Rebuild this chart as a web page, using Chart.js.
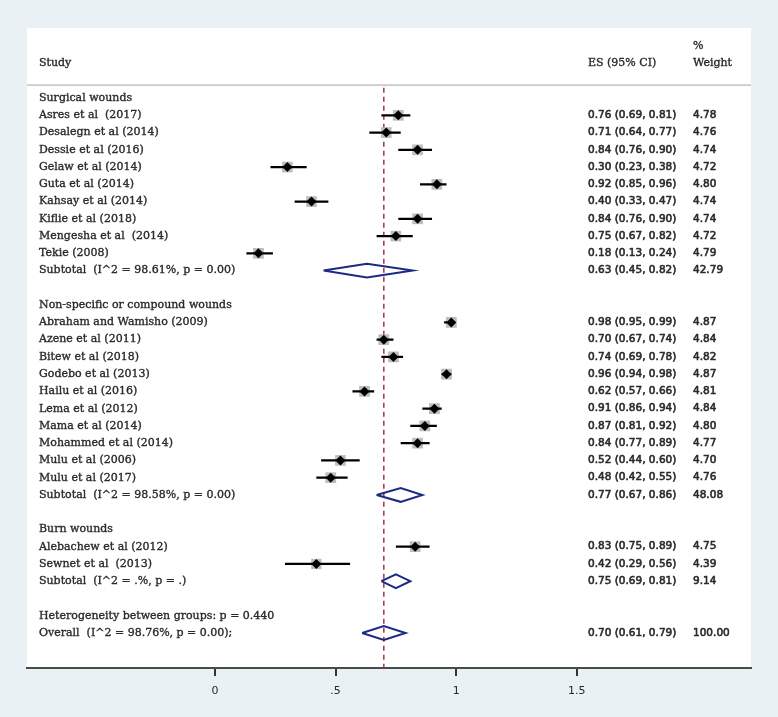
<!DOCTYPE html>
<html>
<head>
<meta charset="utf-8">
<script src="https://cdn.jsdelivr.net/npm/chart.js@4.4.0/dist/chart.umd.min.js"></script>
<style>
  html, body { margin: 0; padding: 0; background: #e9f1f4; }
  #wrap { width: 778px; height: 717px; }
</style>
</head>
<body>
<div id="wrap"><canvas id="forest"></canvas></div>
<script>
// groups and studies
const groupNames = ['Surgical wounds', 'Non-specific or compound wounds', 'Burn wounds'];
const studyLabels = [
  'Asres et al  (2017)', 'Desalegn et al (2014)', 'Dessie et al (2016)', 'Gelaw et al (2014)',
  'Guta et al (2014)', 'Kahsay et al (2014)', 'Kiflie et al (2018)', 'Mengesha et al  (2014)', 'Tekie (2008)',
  'Abraham and Wamisho (2009)', 'Azene et al (2011)', 'Bitew et al (2018)', 'Godebo et al (2013)',
  'Hailu et al (2016)', 'Lema et al (2012)', 'Mama et al (2014)', 'Mohammed et al (2014)',
  'Mulu et al (2006)', 'Mulu et al (2017)',
  'Alebachew et al (2012)', 'Sewnet et al  (2013)'
];
const studyGroup = [0,0,0,0,0,0,0,0,0, 1,1,1,1,1,1,1,1,1,1, 2,2];
const studyES    = [0.76,0.71,0.84,0.30,0.92,0.40,0.84,0.75,0.18, 0.98,0.70,0.74,0.96,0.62,0.91,0.87,0.84,0.52,0.48, 0.83,0.42];
const studyLower = [0.69,0.64,0.76,0.23,0.85,0.33,0.76,0.67,0.13, 0.95,0.67,0.69,0.94,0.57,0.86,0.81,0.77,0.44,0.42, 0.75,0.29];
const studyUpper = [0.81,0.77,0.90,0.38,0.96,0.47,0.90,0.82,0.24, 0.99,0.74,0.78,0.98,0.66,0.94,0.92,0.89,0.60,0.55, 0.89,0.56];
const studyWeight = [4.78,4.76,4.74,4.72,4.80,4.74,4.74,4.72,4.79, 4.87,4.84,4.82,4.87,4.81,4.84,4.80,4.77,4.70,4.76, 4.75,4.39];

// subtotals and overall
const subtotalLabels = ['Subtotal  (I^2 = 98.61%, p = 0.00)', 'Subtotal  (I^2 = 98.58%, p = 0.00)', 'Subtotal  (I^2 = .%, p = .)'];
const subtotalES    = [0.63, 0.77, 0.75];
const subtotalLower = [0.45, 0.67, 0.69];
const subtotalUpper = [0.82, 0.86, 0.81];
const subtotalWeight = [42.79, 48.08, 9.14];
const heterogeneityLabel = 'Heterogeneity between groups: p = 0.440';
const overallLabel = 'Overall  (I^2 = 98.76%, p = 0.00);';
const overallES = 0.70, overallLower = 0.61, overallUpper = 0.79, overallWeight = 100.00;

// axis
const xTicks = [0, 0.5, 1, 1.5];
const xTickLabels = ['0', '.5', '1', '1.5'];

// ---- layout in row units (y axis is row number, reversed) ----
const rows = [];
let r = 0;
groupNames.forEach((g, gi) => {
  rows.push({ kind: 'group', text: g, y: r++ });
  studyGroup.forEach((sg, si) => { if (sg === gi) rows.push({ kind: 'study', i: si, y: r++ }); });
  rows.push({ kind: 'subtotal', i: gi, y: r++ });
  r++;
});
rows.push({ kind: 'het', y: r++ });
rows.push({ kind: 'overall', y: r++ });

const fmt = (e, l, u) => e.toFixed(2) + ' (' + l.toFixed(2) + ', ' + u.toFixed(2) + ')';
const DIAMOND_H = 0.4;

const ciData = [], boxData = [], boxRadius = [], pointData = [], diamondData = [];
rows.forEach(row => {
  if (row.kind === 'study') {
    const i = row.i;
    ciData.push({ x: studyLower[i], y: row.y }, { x: studyUpper[i], y: row.y }, { x: null, y: null });
    boxData.push({ x: studyES[i], y: row.y });
    boxRadius.push(7.6 * Math.sqrt(studyWeight[i] / 4.8));
    pointData.push({ x: studyES[i], y: row.y });
  }
  if (row.kind === 'subtotal' || row.kind === 'overall') {
    const e = row.kind === 'overall' ? overallES : subtotalES[row.i];
    const l = row.kind === 'overall' ? overallLower : subtotalLower[row.i];
    const u = row.kind === 'overall' ? overallUpper : subtotalUpper[row.i];
    diamondData.push({ x: l, y: row.y }, { x: e, y: row.y - DIAMOND_H }, { x: u, y: row.y },
                     { x: e, y: row.y + DIAMOND_H }, { x: l, y: row.y }, { x: null, y: null });
  }
});

const serif = '11px "DejaVu Serif"';
const sans = '10.5px "DejaVu Sans"';

// heavier text like the scanned original
function heavyText(ctx, s, x, y, w) {
  ctx.lineWidth = w;
  ctx.strokeText(s, x, y);
  ctx.fillText(s, x, y);
}

const panel = {
  id: 'panel',
  beforeDraw(chart) {
    const { ctx, chartArea: { left, top, width, height } } = chart;
    ctx.save();
    ctx.fillStyle = '#e9f1f4';
    ctx.fillRect(0, 0, chart.width, chart.height);
    ctx.fillStyle = '#ffffff';
    ctx.fillRect(left, top, width, height);
    // header separator
    const ys = chart.scales.y.getPixelForValue(-0.75);
    ctx.fillStyle = '#cfcfcf';
    ctx.fillRect(left, ys - 1, width, 2);
    ctx.restore();
  }
};

const texts = {
  id: 'texts',
  afterDatasetsDraw(chart) {
    const { ctx } = chart;
    const y = chart.scales.y;
    const xLabel = 39, xES = 588, xW = 693;
    ctx.save();
    ctx.fillStyle = '#2a2a2a';
    ctx.strokeStyle = '#2a2a2a';
    ctx.lineJoin = 'round';
    ctx.textBaseline = 'middle';
    ctx.textAlign = 'left';
    ctx.font = serif;
    heavyText(ctx, 'Study', xLabel, y.getPixelForValue(-2.05), 0.35);
    heavyText(ctx, 'ES (95% CI)', xES, y.getPixelForValue(-2.05), 0.35);
    heavyText(ctx, '%', xW, y.getPixelForValue(-3.0), 0.35);
    heavyText(ctx, 'Weight', xW, y.getPixelForValue(-2.05), 0.35);
    rows.forEach(row => {
      const py = y.getPixelForValue(row.y);
      let label, es = null, w = null;
      if (row.kind === 'group') label = row.text;
      if (row.kind === 'study') {
        label = studyLabels[row.i];
        es = fmt(studyES[row.i], studyLower[row.i], studyUpper[row.i]);
        w = studyWeight[row.i].toFixed(2);
      }
      if (row.kind === 'subtotal') {
        label = subtotalLabels[row.i];
        es = fmt(subtotalES[row.i], subtotalLower[row.i], subtotalUpper[row.i]);
        w = subtotalWeight[row.i].toFixed(2);
      }
      if (row.kind === 'het') label = heterogeneityLabel;
      if (row.kind === 'overall') {
        label = overallLabel;
        es = fmt(overallES, overallLower, overallUpper);
        w = overallWeight.toFixed(2);
      }
      ctx.font = serif;
      heavyText(ctx, label, xLabel, py, 0.35);
      if (es) {
        ctx.font = sans;
        heavyText(ctx, es, xES, py, 0.6);
        heavyText(ctx, w, xW, py, 0.6);
      }
    });
    ctx.restore();
  }
};

new Chart(document.getElementById('forest'), {
  type: 'scatter',
  data: {
    datasets: [
      {
        type: 'line', data: diamondData, borderColor: '#1c2a84', borderWidth: 2,
        pointRadius: 0, spanGaps: false, fill: false, order: 1
      },
      {
        data: pointData, pointStyle: 'rectRot', pointRadius: 5,
        backgroundColor: '#000000', borderWidth: 0, order: 2
      },
      {
        type: 'line', data: ciData, borderColor: '#000000', borderWidth: 2.2,
        pointRadius: 0, spanGaps: false, order: 3
      },
      {
        data: boxData, pointStyle: 'rect', pointRadius: boxRadius,
        backgroundColor: '#bdbdbd', borderWidth: 0, order: 4
      },
      {
        type: 'line', data: [{ x: overallES, y: -0.6 }, { x: overallES, y: 33.03 }],
        borderColor: '#a8343c', borderWidth: 1.5, borderDash: [5, 4],
        pointRadius: 0, order: 5
      }
    ]
  },
  options: {
    responsive: true,
    maintainAspectRatio: false,
    animation: false,
    layout: { padding: { left: 27, right: 27, top: 28, bottom: 0 } },
    plugins: { legend: { display: false }, tooltip: { enabled: false } },
    scales: {
      x: {
        type: 'linear', min: -0.78, max: 2.223,
        afterBuildTicks(scale) { scale.ticks = xTicks.map(v => ({ value: v })); },
        afterFit(scale) { scale.height = 49; },
        ticks: {
          callback: (v) => xTickLabels[xTicks.indexOf(v)],
          color: '#2a2a2a', font: { family: 'DejaVu Sans', size: 11 }, padding: 9,
          autoSkip: false, maxRotation: 0
        },
        grid: { drawOnChartArea: false, tickLength: 8, color: '#333333', lineWidth: 2 },
        border: { color: '#4a4a4a', width: 2 }
      },
      y: { type: 'linear', reverse: true, min: -4.06, max: 33.03, display: false }
    }
  },
  plugins: [panel, texts]
});
</script>
</body>
</html>
